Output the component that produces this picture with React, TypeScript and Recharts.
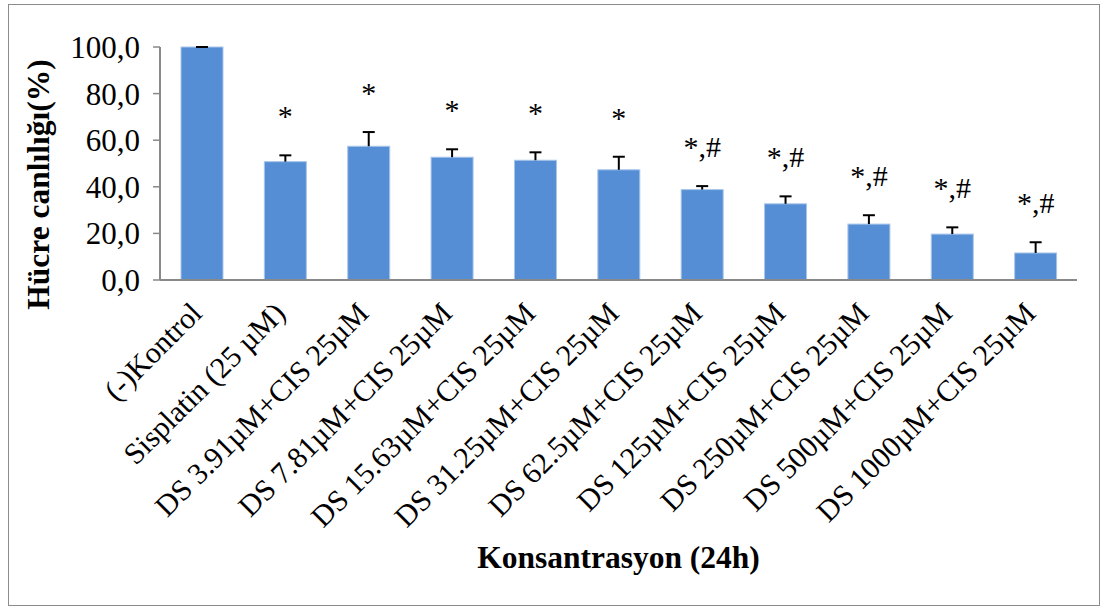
import { BarChart, Bar, XAxis, YAxis } from "recharts";

const groups = [
  "(-)Kontrol",
  "Sisplatin (25 µM)",
  "DS 3.91µM+CIS 25µM",
  "DS 7.81µM+CIS 25µM",
  "DS 15.63µM+CIS 25µM",
  "DS 31.25µM+CIS 25µM",
  "DS 62.5µM+CIS 25µM",
  "DS 125µM+CIS 25µM",
  "DS 250µM+CIS 25µM",
  "DS 500µM+CIS 25µM",
  "DS 1000µM+CIS 25µM",
];
const viability = [100, 50.8, 57.4, 52.7, 51.4, 47.3, 38.8, 32.7, 24.0, 19.7, 11.6];
const sem = [0, 2.7, 6.1, 3.4, 3.4, 5.6, 1.5, 3.2, 3.8, 2.9, 4.6];
const marks = ["", "*", "*", "*", "*", "*", "*,#", "*,#", "*,#", "*,#", "*,#"];
const yTicks = [0, 20, 40, 60, 80, 100];
const groupEdges = groups.map((_, i) => i).concat(groups.length);

const data = groups.map((g, i) => ({ group: g, value: viability[i], sem: sem[i], mark: marks[i] }));

const FONT = "'Liberation Serif', 'Times New Roman', serif";
const AXIS = "#898989";

// bar + one-sided error bar + significance mark
function BarWithError(props: any) {
  const { x, y, width, height, payload } = props;
  const perUnit = height / payload.value;
  const top = y - payload.sem * perUnit;
  const cx = x + width / 2;
  return (
    <g>
      <rect x={x} y={y} width={width} height={height} fill="#558ed5" stroke="#a9c6ea" strokeWidth={1} />
      <line x1={cx} x2={cx} y1={y} y2={top} stroke="#000" strokeWidth={2} />
      <line x1={cx - 6} x2={cx + 6} y1={top} y2={top} stroke="#000" strokeWidth={2} />
      {payload.mark ? (
        <text x={cx} y={top - 29} textAnchor="middle" fontFamily={FONT} fontSize={30} fill="#000">
          {payload.mark}
        </text>
      ) : null}
    </g>
  );
}

function GroupTick({ x, y, payload }: any) {
  const ax = x + 2;
  const ay = y + 27;
  return (
    <text
      x={ax}
      y={ay}
      transform={`rotate(-45, ${ax}, ${ay})`}
      textAnchor="end"
      fontFamily={FONT}
      fontSize={30}
      fill="#000"
    >
      {payload.value}
    </text>
  );
}

export default function App() {
  return (
    <div style={{ position: "absolute", left: 0, top: 0, width: 1109, height: 607, background: "#fff" }}>
      <div
        style={{
          position: "absolute",
          left: 8,
          top: 4,
          width: 1092,
          height: 602,
          border: "1.5px solid #8c8c8c",
          boxSizing: "border-box",
        }}
      />
      <BarChart
        width={1109}
        height={607}
        data={data}
        margin={{ top: 47, right: 32, bottom: 0, left: 0 }}
        style={{ position: "absolute", left: 0, top: 0 }}
      >
        <XAxis
          xAxisId="edges"
          type="number"
          dataKey="value"
          domain={[0, groups.length]}
          ticks={groupEdges}
          tick={false}
          axisLine={false}
          tickLine={{ stroke: AXIS, strokeWidth: 1.5 }}
          tickSize={7}
          height={0}
          allowDataOverflow
        />
        <XAxis
          xAxisId="cat"
          dataKey="group"
          interval={0}
          height={327}
          tickLine={false}
          axisLine={{ stroke: AXIS, strokeWidth: 2 }}
          tick={<GroupTick />}
          label={{
            content: ({ viewBox }: any) => (
              <text
                x={viewBox.x + viewBox.width / 2}
                y={568}
                textAnchor="middle"
                fontFamily={FONT}
                fontSize={31.5}
                fontWeight="bold"
                fill="#000"
              >
                Konsantrasyon (24h)
              </text>
            ),
          }}
        />
        <YAxis
          width={160}
          domain={[0, 100]}
          ticks={yTicks}
          interval={0}
          tickFormatter={(v: number) => v.toFixed(1).replace(".", ",")}
          tick={{ fontFamily: FONT, fontSize: 31, fill: "#000" }}
          tickSize={7}
          tickMargin={13}
          tickLine={{ stroke: AXIS, strokeWidth: 1.5 }}
          axisLine={{ stroke: AXIS, strokeWidth: 2 }}
          label={{
            content: ({ viewBox }: any) => (
              <text
                transform={`translate(38, ${viewBox.y + viewBox.height / 2 + 21}) rotate(-90)`}
                textAnchor="middle"
                dominantBaseline="central"
                fontFamily={FONT}
                fontSize={31.5}
                fontWeight="bold"
                fill="#000"
              >
                Hücre canlılığı(%)
              </text>
            ),
          }}
        />
        <Bar xAxisId="cat" dataKey="value" barSize={42} shape={<BarWithError />} isAnimationActive={false} />
      </BarChart>
    </div>
  );
}
